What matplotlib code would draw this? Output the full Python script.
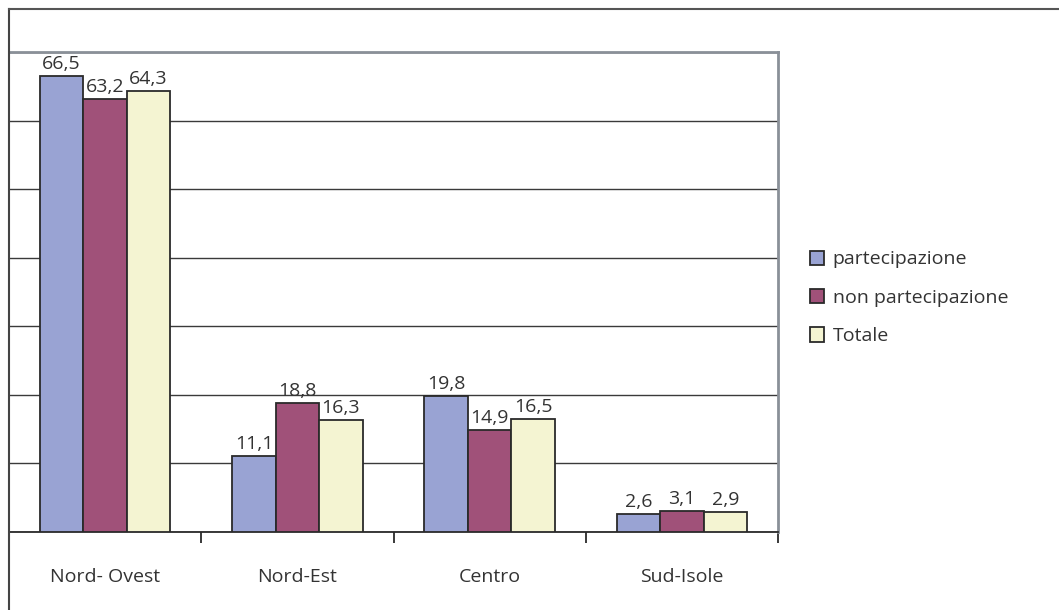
import matplotlib.pyplot as plt
import numpy as np
from matplotlib.lines import Line2D
from matplotlib.patches import Patch

plt.rcParams['font.family'] = ['Open Sans', 'DejaVu Sans']

categories = ["Nord- Ovest", "Nord-Est", "Centro", "Sud-Isole"]
series = ["partecipazione", "non partecipazione", "Totale"]
partecipazione = [66.5, 11.1, 19.8, 2.6]
non_partecipazione = [63.2, 18.8, 14.9, 3.1]
totale = [64.3, 16.3, 16.5, 2.9]
colors = ["#99a3d3", "#a05179", "#f4f4d2"]

fig = plt.figure(figsize=(10.59, 6.10), dpi=100)
ax = fig.add_axes([9 / 1059, 1 - 532 / 610, (778 - 9) / 1059, (532 - 52) / 610])

x = np.arange(len(categories))
w = 0.226
text_col = "#333333"
fs = 14
for i, (vals, c) in enumerate(zip([partecipazione, non_partecipazione, totale], colors)):
    pos = x + (i - 1) * w
    ax.bar(pos, vals, w, color=c, edgecolor="#2a2a2a", linewidth=1.3, zorder=3)
    for p, v in zip(pos, vals):
        ax.text(p, v + 0.4, f"{v:.1f}".replace(".", ","), ha="center", va="bottom",
                fontsize=fs, color=text_col)

ax.set_xlim(-0.5, len(categories) - 0.5)
ax.set_ylim(0, 70)
ax.set_yticks(np.arange(0, 71, 10))
ax.yaxis.grid(True, color="#3a3a3a", linewidth=1.0, zorder=0)
ax.tick_params(axis="y", length=0, labelleft=False)

ax.set_xticks(np.arange(len(categories) + 1) - 0.5)
ax.set_xticklabels([])
ax.set_xticks(x, minor=True)
ax.set_xticklabels(categories, minor=True, fontsize=fs, color=text_col)
ax.tick_params(axis="x", which="major", length=8, width=1.3, color="#2a2a2a", direction="out")
ax.tick_params(axis="x", which="minor", length=0, pad=26)

ax.spines["bottom"].set_color("#2a2a2a")
ax.spines["bottom"].set_linewidth(1.3)
ax.spines["left"].set_visible(False)
for s in ["top", "right"]:
    ax.spines[s].set_color("#8a9098")
    ax.spines[s].set_linewidth(2)

# outer frame of the chart
fig.add_artist(Line2D([9 / 1059, 9 / 1059], [0, 1 - 9 / 610], transform=fig.transFigure,
                      color="#444444", linewidth=1.5))
fig.add_artist(Line2D([9 / 1059, 1], [1 - 9 / 610, 1 - 9 / 610], transform=fig.transFigure,
                      color="#555555", linewidth=1.5))

handles = [Patch(facecolor=c, edgecolor="#2a2a2a", linewidth=1.3) for c in colors]
fig.legend(handles, series, loc="upper left", bbox_to_anchor=(792 / 1059, 1 - 233 / 610),
           frameon=False, fontsize=fs, handlelength=0.75, handleheight=0.75,
           handletextpad=0.45, labelspacing=1.05, labelcolor=text_col)

fig.savefig("out.png", dpi=100)
